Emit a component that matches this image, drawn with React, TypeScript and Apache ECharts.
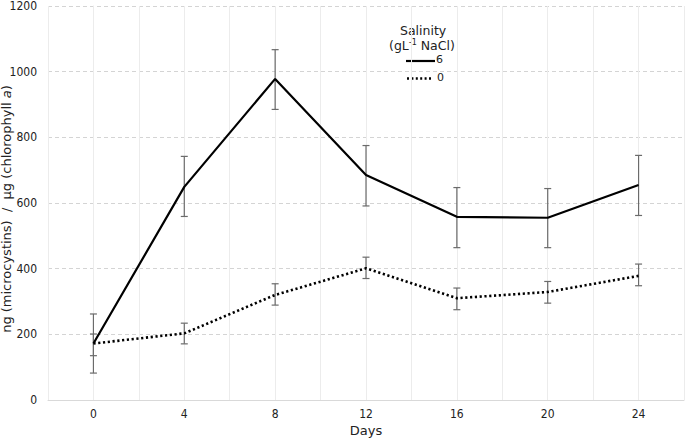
import React, { useEffect, useRef } from "react";
import * as echarts from "echarts";

const days = [0, 4, 8, 12, 16, 20, 24];
const sal6 = [172, 649, 978, 685, 558, 555, 655];
const sal6Low = [82, 559, 885, 591, 464, 464, 562];
const sal6High = [262, 742, 1067, 775, 647, 644, 745];
const sal0 = [172, 203, 320, 401, 310, 329, 378];
const sal0Low = [135, 171, 289, 370, 275, 295, 348];
const sal0High = [201, 234, 354, 435, 341, 361, 414];
const yTicks = [0, 200, 400, 600, 800, 1000, 1200];

const FONT = "DejaVu Sans";
const TICKFONT = "'DejaVu Sans Condensed', 'DejaVu Sans'";

export default function App() {
  const ref = useRef<HTMLDivElement>(null);
  useEffect(() => {
    if (!ref.current) return;
    const chart = echarts.init(ref.current, null, { renderer: "svg" });
    const errData = (lo: number[], hi: number[]) => days.map((d, i) => [d, lo[i], hi[i]]);
    const renderErr = (params: any, api: any) => {
      const x = api.value(0);
      const p1 = api.coord([x, api.value(1)]);
      const p2 = api.coord([x, api.value(2)]);
      const cap = 3.5;
      const style = { stroke: "#6b6b6b", lineWidth: 1.2 };
      return {
        type: "group",
        children: [
          { type: "line", shape: { x1: p1[0], y1: p1[1], x2: p2[0], y2: p2[1] }, style },
          { type: "line", shape: { x1: p1[0] - cap, y1: p1[1], x2: p1[0] + cap, y2: p1[1] }, style },
          { type: "line", shape: { x1: p2[0] - cap, y1: p2[1], x2: p2[0] + cap, y2: p2[1] }, style },
        ],
      };
    };
    chart.setOption({
      animation: false,
      textStyle: { fontFamily: FONT },
      grid: { left: 48, right: 1, top: 6, bottom: 38, containLabel: false, outerBoundsMode: "none" },
      xAxis: {
        type: "value",
        min: -2,
        max: 26,
        interval: 2,
        name: "Days",
        nameLocation: "middle",
        nameGap: 24,
        nameMoveOverlap: false,
        nameTextStyle: { color: "#222", fontSize: 13, fontFamily: FONT },
        axisLine: { show: true, lineStyle: { color: "#d9d9d9" } },
        axisTick: { show: false },
        axisLabel: {
          color: "#222",
          fontSize: 12,
          fontFamily: TICKFONT,
          margin: 8,
          formatter: (v: number) => (v >= 0 && v <= 24 && v % 4 === 0 ? String(v) : ""),
        },
        splitLine: { show: true, lineStyle: { color: "#ececec", width: 1 } },
      },
      yAxis: {
        type: "value",
        min: yTicks[0],
        max: yTicks[yTicks.length - 1],
        interval: 200,
        name: "ng (microcystins)  /  µg (chlorophyll {i|a})",
        nameLocation: "middle",
        nameGap: 35,
        nameMoveOverlap: false,
        nameTextStyle: {
          color: "#222",
          fontSize: 13,
          fontFamily: FONT,
          padding: [0, 12, 0, 0],
          rich: { i: { fontStyle: "italic", fontSize: 13, fontFamily: FONT, color: "#222" } },
        },
        axisLine: { show: true, lineStyle: { color: "#ececec" } },
        axisTick: { show: false },
        axisLabel: {
          color: "#222",
          fontSize: 12,
          fontFamily: TICKFONT,
          margin: 11,
          formatter: (v: number) => String(v),
        },
        splitLine: { show: true, lineStyle: { color: "#d4d4d4", type: [4, 3], width: 1 } },
      },
      series: [
        {
          type: "custom",
          renderItem: renderErr,
          data: errData(sal6Low, sal6High),
          z: 3,
          silent: true,
        },
        {
          type: "custom",
          renderItem: renderErr,
          data: errData(sal0Low, sal0High),
          z: 3,
          silent: true,
        },
        {
          name: "6",
          type: "line",
          data: days.map((d, i) => [d, sal6[i]]),
          symbol: "none",
          lineStyle: { color: "#000", width: 2.2, type: "solid" },
          z: 4,
        },
        {
          name: "0",
          type: "line",
          data: days.map((d, i) => [d, sal0[i]]),
          symbol: "none",
          lineStyle: { color: "#000", width: 2.6, type: [2.2, 2.6] },
          z: 4,
        },
      ],
      graphic: [
        {
          type: "text",
          left: 400,
          top: 24,
          style: { text: "Salinity", fontSize: 12.5, fontFamily: FONT, fill: "#222" },
        },
        {
          type: "text",
          left: 389,
          top: 38,
          style: {
            text: "(gL{sup|-1} NaCl)",
            fontSize: 12.5,
            fontFamily: FONT,
            fill: "#222",
            rich: { sup: { fontSize: 8, verticalAlign: "top", padding: [0, 0, 6, 0], fontFamily: FONT, fill: "#222" } },
          },
        },
        {
          type: "line",
          shape: { x1: 406, y1: 61, x2: 435, y2: 61 },
          style: { stroke: "#000", lineWidth: 2.2 },
        },
        {
          type: "text",
          left: 436,
          top: 54,
          style: { text: "6", fontSize: 11, fontFamily: FONT, fill: "#222" },
        },
        {
          type: "line",
          shape: { x1: 407, y1: 78.5, x2: 432, y2: 78.5 },
          style: { stroke: "#000", lineWidth: 2.4, lineDash: [2, 2.4] },
        },
        {
          type: "text",
          left: 437,
          top: 72,
          style: { text: "0", fontSize: 11, fontFamily: FONT, fill: "#222" },
        },
      ],
    });
    return () => chart.dispose();
  }, []);
  return <div ref={ref} style={{ width: 685, height: 438, position: "absolute", left: 0, top: 0 }} />;
}
